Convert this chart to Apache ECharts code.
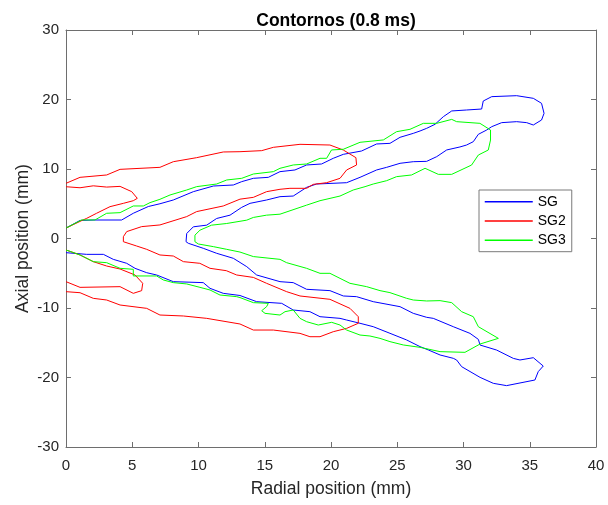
<!DOCTYPE html>
<html>
<head>
<meta charset="utf-8">
<script src="https://cdn.jsdelivr.net/npm/echarts@6/dist/echarts.min.js"></script>
<style>
html,body{margin:0;padding:0;background:#fff;}
#chart{width:608px;height:505px;}
</style>
</head>
<body>
<div id="chart"></div>
<script>
// Axis ticks
const xTicks = [0, 5, 10, 15, 20, 25, 30, 35, 40];
const yTicks = [-30, -20, -10, 0, 10, 20, 30];

// SG (blue) contour
const sgX = [0,1.06,2.19,4.2,5.08,6.21,7.09,8.1,9.61,11.12,12.63,13.26,14.14,15.27,16.15,17.28,18.16,19.29,20.17,20.93,22.31,23.44,24.45,25.21,26.21,26.72,27.22,27.85,28.48,29.11,30.23,31.37,31.49,32.13,34.01,35.27,35.89,36.08,35.89,35.27,34.77,34.01,32.88,32.13,31.75,31.12,30.74,30.23,29.73,28.73,27.98,27.22,26.21,25.21,24.2,23.44,22.19,21.18,18.91,18.16,17.15,16.15,15.14,13.89,13.26,12.38,11.37,10.62,9.61,9.11,9.06,9.23,10.36,11.37,12.63,13.64,14.39,16.15,17.15,18.16,19.92,20.93,21.93,23.19,25.21,26.21,27.22,27.72,29.23,30.49,31.12,31.25,32.5,33.76,34.26,35.27,36.02,35.64,35.39,33.25,32.25,31.25,29.86,29.48,29.23,28.23,27.35,26.72,25.71,24.45,23.19,22.19,21.18,20.68,19.17,18.41,17.15,16.28,14.39,13.13,11.87,10.87,10.36,8.1,6.84,6.09,5.21,4.58,3.57,2.82,1.56,0];
const sgY = [1.5,2.6,2.66,2.66,3.63,4.6,5.0,5.54,6.74,7.55,7.7,8.18,8.66,8.8,9.62,9.86,10.58,10.72,11.54,12.11,12.59,13.6,13.69,14.56,15.13,15.47,15.85,16.43,17.53,18.35,18.49,18.63,19.78,20.41,20.55,20.17,19.45,18.01,17.05,16.33,16.67,16.81,16.67,16.09,15.61,14.99,13.93,13.45,13.17,12.74,11.78,11.1,11.05,10.82,10.24,9.86,8.8,8.03,7.84,7.36,6.11,6.02,5.54,5.06,4.48,3.36,2.88,1.92,1.68,0.72,-0.46,-0.69,-1.41,-2.13,-2.85,-4.05,-5.25,-6.21,-6.35,-7.31,-7.5,-8.27,-8.37,-9.09,-9.81,-10.77,-11.34,-11.49,-12.69,-13.65,-14.51,-15.33,-16.05,-17.25,-17.48,-17.15,-18.35,-19.16,-20.36,-21.17,-20.84,-19.98,-18.44,-17.48,-17.24,-16.76,-16.04,-15.56,-14.6,-13.64,-12.69,-12.2,-11.73,-11.49,-11.25,-10.53,-10.29,-9.33,-9.09,-8.2,-7.89,-7.17,-6.35,-6.21,-5.25,-4.92,-4.29,-3.57,-3.0,-2.28,-2.28,-2.04];

// SG2 (red) main contour
const sg2X = [0,1.06,3.07,4.08,7.09,8.1,9.86,11.87,13.13,14.77,15.65,17.66,19.92,20.93,21.88,21.93,21.18,20.68,19.67,18.66,18.16,16.9,16.15,15.14,14.14,13.13,11.87,9.86,9.11,7.09,5.71,4.58,4.33,4.33,5.33,6.09,7.09,8.1,8.86,10.1,10.87,12.1,12.88,14.14,15.14,16.65,17.66,19.92,21.43,22.06,22.06,21.18,20.17,19.17,18.41,17.66,15.65,14.14,13.13,10.62,8.86,7.09,6.09,4.08,3.07,2.06,1.06,0];
const sg2Y = [7.94,8.8,9.14,9.95,10.24,11.05,11.63,12.45,12.49,12.64,13.12,13.55,13.45,12.73,11.63,10.58,9.86,8.66,8.03,7.79,7.22,7.22,7.08,6.74,5.92,5.66,4.68,3.87,3.15,1.95,1.71,0.99,0.26,-0.46,-1.08,-1.56,-2.37,-2.52,-3.33,-3.57,-4.29,-4.63,-5.25,-5.6,-6.45,-7.65,-8.27,-8.75,-10.05,-11.25,-12.2,-12.93,-13.41,-14.13,-14.13,-13.65,-13.17,-13.17,-12.3,-11.49,-11.15,-11.01,-10.05,-9.57,-8.85,-8.61,-7.8,-7.65];
// SG2 small upper lobe
const sg2UpX = [0,1.06,2.06,3.07,4.08,4.96,5.38,5.08,4.33,3.32,2.31,1.56,1.18,0];
const sg2UpY = [7.45,7.3,7.58,7.4,7.5,6.74,5.78,5.44,5.06,4.58,3.63,2.9,2.57,1.5];
// SG2 small lower lobe
const sg2LoX = [0,1.06,2.06,3.07,4.08,5.21,5.79,5.71,5.08,4.08,1.06,0];
const sg2LoY = [-1.65,-2.37,-3.33,-3.96,-4.39,-5.25,-6.45,-7.5,-7.89,-6.93,-7.03,-6.21];

// SG3 (green) contour
const sg3X = [0,1.18,2.19,3.07,4.08,5.08,5.84,6.34,7.09,7.85,9.11,9.86,11.37,12.13,13.26,14.14,15.65,16.15,17.15,18.16,19.17,19.67,20.04,20.93,22.19,23.95,24.95,25.96,26.97,27.98,29.11,29.48,31.24,32.04,32.04,31.87,31.12,30.61,29.11,28.1,27.1,26.08,24.95,24.2,23.19,22.57,21.68,20.68,19.17,18.16,16.15,15.14,14.14,13.64,12.13,10.99,10.11,9.73,9.73,9.99,11.12,12.13,13.13,14.14,16.15,16.65,18.16,19.17,19.92,21.43,22.69,23.7,24.45,25.71,26.21,27.22,28.23,29.11,29.86,30.74,31.12,32.63,31.25,30.11,28.23,26.72,25.46,24.45,23.7,22.94,22.19,21.18,20.68,20.05,19.04,18.16,17.66,17.15,16.53,16.15,15.02,14.77,15.14,15.27,14.14,13.13,12.88,11.62,10.87,10.11,9.11,8.1,7.35,6.84,5.08,5.08,4.08,3.07,2.06,1.06,0];
const sg3Y = [1.5,2.67,2.67,3.63,3.72,4.68,4.68,5.16,5.64,6.26,6.98,7.46,7.84,8.42,8.66,9.28,9.62,10.1,10.58,10.72,11.54,11.54,12.74,12.84,13.84,14.18,15.37,15.71,16.57,16.57,17.14,16.81,16.57,15.61,14.17,12.73,12.01,10.57,9.23,9.23,10.1,9.14,8.9,8.32,7.84,7.46,6.98,6.11,5.44,4.8,3.5,3.36,3.03,2.64,2.16,1.92,1.2,0.48,-0.46,-0.79,-1.17,-1.56,-1.95,-2.6,-3.0,-3.48,-4.29,-5.01,-5.01,-6.45,-6.93,-7.5,-7.79,-8.61,-8.85,-8.99,-8.94,-9.23,-10.53,-11.25,-12.69,-14.37,-15.18,-16.38,-16.28,-15.66,-15.32,-14.84,-14.37,-14.03,-13.89,-13.17,-12.45,-12.06,-12.45,-11.97,-11.49,-10.29,-10.53,-11.01,-10.77,-10.39,-9.81,-9.33,-9.23,-8.5,-8.37,-8.13,-7.41,-7.03,-6.54,-6.35,-5.97,-5.39,-5.39,-4.43,-4.29,-3.48,-3.33,-2.37,-1.65];

function pts(xs, ys) { return xs.map((x, i) => [x, ys[i]]); }

const chart = echarts.init(document.getElementById('chart'), null, {renderer: 'canvas'});
const fontFam = '"Liberation Sans", Arial, sans-serif';
const axisCol = '#6e6e6e';
const lineSeries = (name, color, data) => ({
  name: name, type: 'line', data: data, symbol: 'none', showSymbol: false,
  lineStyle: {color: color, width: 1}, itemStyle: {color: color},
  animation: false, silent: true, z: 3
});
chart.setOption({
  animation: false,
  backgroundColor: '#fff',
  title: {
    text: 'Contornos (0.8 ms)', left: 331, top: 7, textAlign: 'center',
    textStyle: {fontFamily: fontFam, fontSize: 17.5, fontWeight: 'bold', color: '#000'}
  },
  grid: {left: 66, right: 12, top: 30, bottom: 58, containLabel: false},
  legend: {
    data: ['SG', 'SG2', 'SG3'], orient: 'vertical', left: 479, top: 190,
    itemWidth: 48, itemHeight: 14, itemGap: 5.3, padding: [4.7, 6, 4.4, 5],
    borderColor: '#7a7a7a', borderWidth: 1, backgroundColor: '#fff',
    textStyle: {fontFamily: fontFam, fontSize: 14, color: '#000'},
    itemStyle: {opacity: 0},
    lineStyle: {width: 1.5},
    selectedMode: false, z: 10
  },
  xAxis: [{
    type: 'value', min: 0, max: 40, interval: 5, position: 'bottom',
    name: 'Radial position (mm)', nameLocation: 'middle', nameGap: 33, nameMoveOverlap: false,
    nameTextStyle: {fontFamily: fontFam, fontSize: 17.5, color: '#262626'},
    axisLine: {show: true, onZero: false, lineStyle: {color: axisCol}},
    axisTick: {show: true, inside: true, length: 5, lineStyle: {color: axisCol}},
    axisLabel: {fontFamily: fontFam, fontSize: 15, color: '#262626', margin: 11,
      formatter: v => xTicks.includes(v) ? String(v) : ''},
    splitLine: {show: false}
  }, {
    type: 'value', min: 0, max: 40, interval: 5, position: 'top',
    axisLine: {show: true, onZero: false, lineStyle: {color: axisCol}},
    axisTick: {show: true, inside: true, length: 5, lineStyle: {color: axisCol}},
    axisLabel: {show: false}, splitLine: {show: false}
  }],
  yAxis: [{
    type: 'value', min: -30, max: 30, interval: 10, position: 'left',
    name: 'Axial position (mm)', nameLocation: 'middle', nameGap: 34, nameMoveOverlap: false,
    nameTextStyle: {fontFamily: fontFam, fontSize: 17.5, color: '#262626'},
    axisLine: {show: true, onZero: false, lineStyle: {color: axisCol}},
    axisTick: {show: true, inside: true, length: 5, lineStyle: {color: axisCol}},
    axisLabel: {fontFamily: fontFam, fontSize: 15, color: '#262626', margin: 7,
      formatter: v => yTicks.includes(v) ? String(v) : ''},
    splitLine: {show: false}
  }, {
    type: 'value', min: -30, max: 30, interval: 10, position: 'right',
    axisLine: {show: true, onZero: false, lineStyle: {color: axisCol}},
    axisTick: {show: true, inside: true, length: 5, lineStyle: {color: axisCol}},
    axisLabel: {show: false}, splitLine: {show: false}
  }],
  series: [
    lineSeries('SG', '#0000ff', pts(sgX, sgY)),
    lineSeries('SG2', '#ff0000', pts(sg2X, sg2Y)),
    lineSeries('SG2', '#ff0000', pts(sg2UpX, sg2UpY)),
    lineSeries('SG2', '#ff0000', pts(sg2LoX, sg2LoY)),
    lineSeries('SG3', '#00ff00', pts(sg3X, sg3Y))
  ]
});
</script>
</body>
</html>
